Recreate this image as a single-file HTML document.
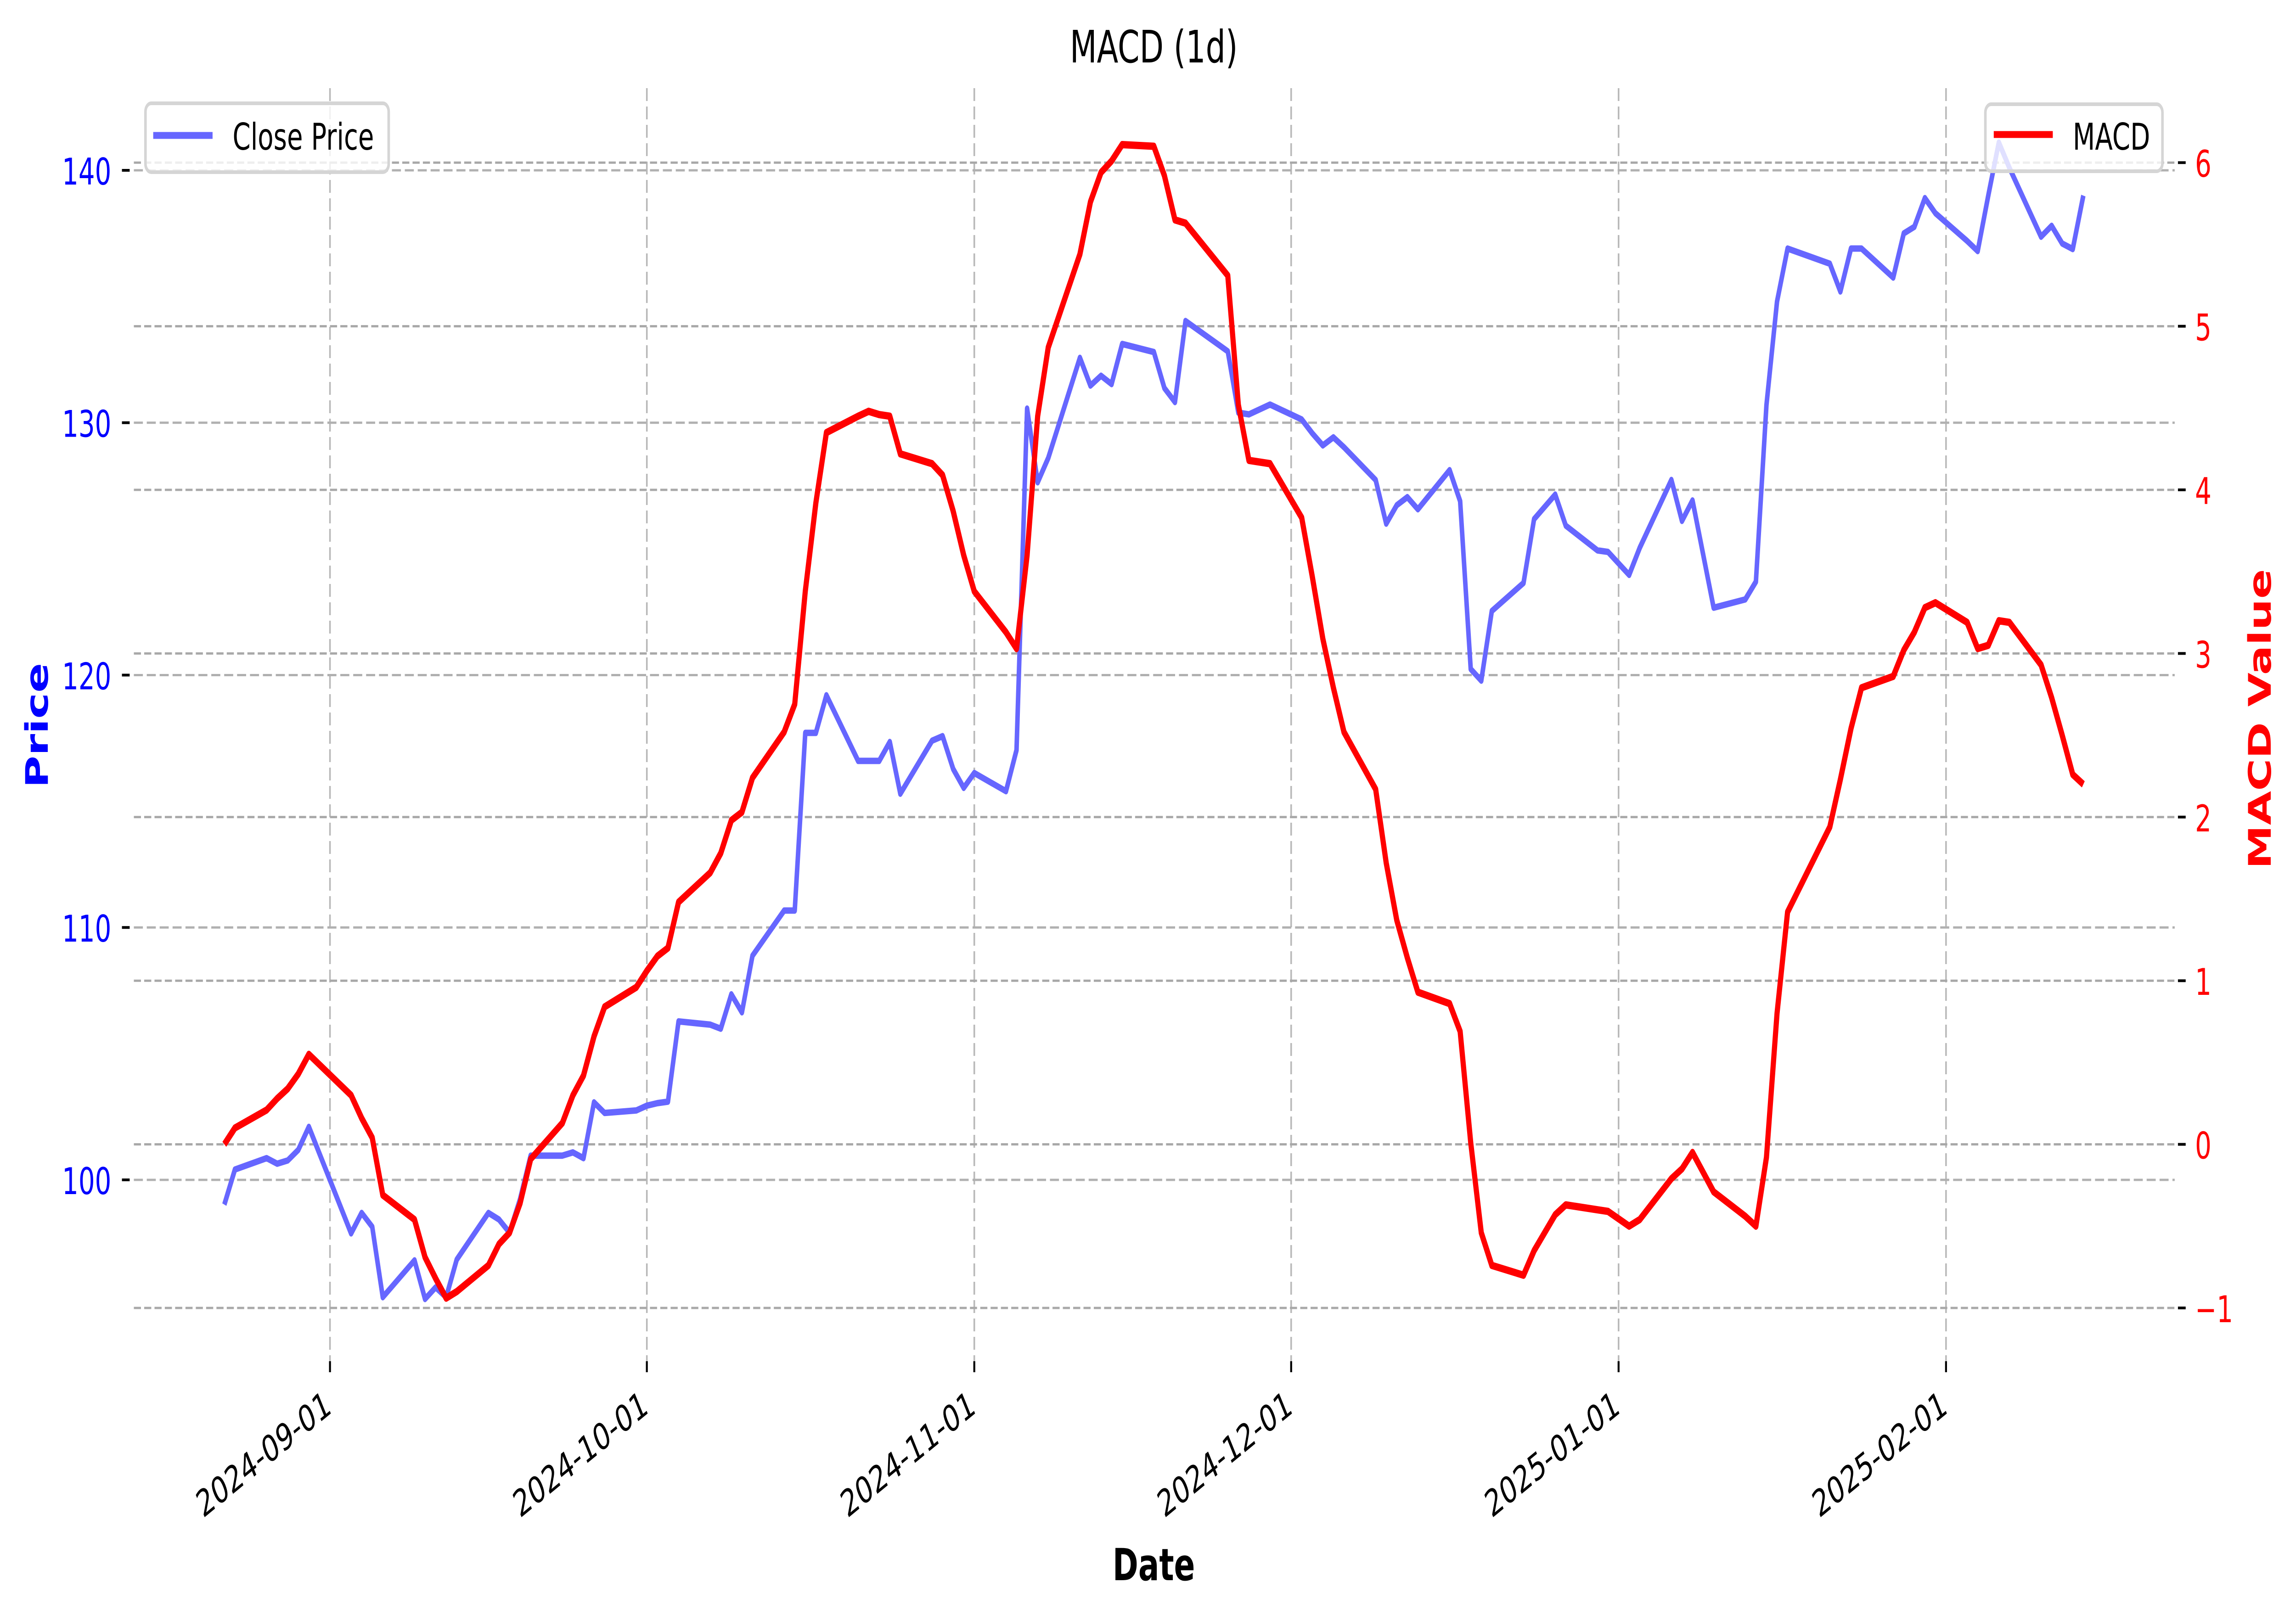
<!DOCTYPE html>
<html>
<head>
<meta charset="utf-8">
<style>
  html, body { margin: 0; padding: 0; background: #ffffff; overflow: hidden; width: 100%; height: 100%; }
  svg { display: block; width: 100vw; height: 100vh; }
  text { font-family: "DejaVu Sans", "Liberation Sans", sans-serif; }
</style>
</head>
<body>
<svg id="chart" xmlns="http://www.w3.org/2000/svg" viewBox="0 0 7118 3520" preserveAspectRatio="none">
  <rect x="0" y="0" width="7118" height="3520" fill="#ffffff"/>
  <g id="grid"></g>
  <g id="price-layer"></g>
  <g id="macd-layer"></g>
  <g id="axes"></g>
  <text x="3577" y="136" font-size="97" text-anchor="middle" fill="#000">MACD (1d)</text>
  <text x="3577" y="3442" font-size="96" font-weight="bold" text-anchor="middle" fill="#000">Date</text>
  <text x="0" y="0" font-size="96" font-weight="bold" text-anchor="middle" fill="#0000ff" transform="translate(148,1580) rotate(-90)">Price</text>
  <text x="0" y="0" font-size="96" font-weight="bold" text-anchor="middle" fill="#ff0000" transform="translate(7040,1566) rotate(-90)">MACD Value</text>
  <g>
    <rect x="451" y="225" width="754" height="150" rx="18" ry="18" fill="#ffffff" fill-opacity="0.8" stroke="#d5d5d5" stroke-width="8"/>
    <line x1="475" y1="295" x2="659" y2="295" stroke="#6666ff" stroke-width="15"/>
    <text x="721" y="326" font-size="80" fill="#000">Close Price</text>
  </g>
  <g>
    <rect x="6155" y="227" width="549" height="146" rx="18" ry="18" fill="#ffffff" fill-opacity="0.8" stroke="#d5d5d5" stroke-width="8"/>
    <line x1="6181" y1="293" x2="6364" y2="293" stroke="#ff0000" stroke-width="15"/>
    <text x="6426" y="326" font-size="80" fill="#000">MACD</text>
  </g>
</svg>
<script>
const dates = ["2024-08-22","2024-08-23","2024-08-26","2024-08-27","2024-08-28","2024-08-29","2024-08-30",
"2024-09-03","2024-09-04","2024-09-05","2024-09-06","2024-09-09","2024-09-10","2024-09-11","2024-09-12","2024-09-13",
"2024-09-16","2024-09-17","2024-09-18","2024-09-19","2024-09-20","2024-09-23","2024-09-24","2024-09-25","2024-09-26","2024-09-27","2024-09-30",
"2024-10-01","2024-10-02","2024-10-03","2024-10-04","2024-10-07","2024-10-08","2024-10-09","2024-10-10","2024-10-11",
"2024-10-14","2024-10-15","2024-10-16","2024-10-17","2024-10-18","2024-10-21","2024-10-22","2024-10-23","2024-10-24","2024-10-25",
"2024-10-28","2024-10-29","2024-10-30","2024-10-31","2024-11-01","2024-11-04","2024-11-05","2024-11-06","2024-11-07","2024-11-08",
"2024-11-11","2024-11-12","2024-11-13","2024-11-14","2024-11-15","2024-11-18","2024-11-19","2024-11-20","2024-11-21",
"2024-11-25","2024-11-26","2024-11-27","2024-11-29","2024-12-02","2024-12-03","2024-12-04","2024-12-05","2024-12-06",
"2024-12-09","2024-12-10","2024-12-11","2024-12-12","2024-12-13","2024-12-16","2024-12-17","2024-12-18","2024-12-19","2024-12-20",
"2024-12-23","2024-12-24","2024-12-26","2024-12-27","2024-12-30","2024-12-31","2025-01-02","2025-01-03",
"2025-01-06","2025-01-07","2025-01-08","2025-01-10","2025-01-13","2025-01-14","2025-01-15","2025-01-16","2025-01-17",
"2025-01-21","2025-01-22","2025-01-23","2025-01-24","2025-01-27","2025-01-28","2025-01-29","2025-01-30","2025-01-31",
"2025-02-03","2025-02-04","2025-02-05","2025-02-06","2025-02-07","2025-02-10","2025-02-11","2025-02-12","2025-02-13","2025-02-14"];

const closePrice = [99.02,100.41,100.86,100.64,100.77,101.19,102.10,
97.88,98.69,98.14,95.35,96.81,95.28,95.74,95.35,96.84,
98.69,98.43,97.91,99.24,100.96,100.96,101.09,100.86,103.07,102.65,102.75,
102.94,103.04,103.10,106.28,106.15,105.99,107.35,106.64,108.88,
110.67,110.67,117.71,117.71,119.20,116.60,116.60,116.60,117.35,115.30,
117.40,117.58,116.28,115.53,116.12,115.40,117.03,130.56,127.64,128.60,
132.57,131.47,131.86,131.53,133.12,132.80,131.37,130.82,134.03,
132.83,130.40,130.33,130.72,130.13,129.58,129.10,129.42,129.03,
127.73,126.00,126.73,127.05,126.57,128.12,126.89,120.24,119.78,122.54,
123.65,126.18,127.15,125.92,124.94,124.88,123.97,125.04,
127.73,126.11,126.92,122.67,123.00,123.70,130.70,134.80,136.90,
136.30,135.20,136.90,136.90,135.75,137.50,137.76,138.90,138.30,
137.20,136.80,139.00,141.10,140.10,137.37,137.80,137.10,136.88,139.00];

const macdValues = [0.00,0.10,0.21,0.28,0.34,0.43,0.55,
0.30,0.16,0.04,-0.31,-0.46,-0.69,-0.82,-0.94,-0.90,
-0.74,-0.61,-0.54,-0.36,-0.09,0.13,0.30,0.42,0.66,0.84,0.96,
1.06,1.15,1.20,1.48,1.66,1.78,1.98,2.03,2.24,
2.52,2.69,3.38,3.92,4.35,4.45,4.48,4.46,4.45,4.22,
4.16,4.09,3.87,3.60,3.38,3.13,3.03,3.60,4.45,4.87,
5.44,5.76,5.94,6.01,6.11,6.10,5.92,5.65,5.63,
5.31,4.52,4.18,4.16,3.83,3.47,3.09,2.79,2.52,
2.17,1.72,1.37,1.14,0.93,0.86,0.69,0.01,-0.54,-0.74,
-0.80,-0.65,-0.43,-0.37,-0.40,-0.41,-0.50,-0.46,
-0.21,-0.15,-0.05,-0.29,-0.44,-0.50,-0.08,0.80,1.42,
1.94,2.23,2.54,2.79,2.86,3.02,3.13,3.28,3.31,
3.19,3.03,3.05,3.20,3.19,2.93,2.73,2.50,2.26,2.20];

const priceTicks = [100, 110, 120, 130, 140];
const macdTicks = [-1, 0, 1, 2, 3, 4, 5, 6];
const dateTicks = ["2024-09-01","2024-10-01","2024-11-01","2024-12-01","2025-01-01","2025-02-01"];

const NS = "http://www.w3.org/2000/svg";
const PLOT = { left: 412, right: 6742, top: 192, bottom: 2965 };
const ORIGIN = Date.UTC(2024, 8, 1);
const DAYPX = 32.745;
function dayOf(s) { const p = s.split("-"); return (Date.UTC(+p[0], +p[1] - 1, +p[2]) - ORIGIN) / 86400000; }
function xScale(s) { return 1023 + dayOf(s) * DAYPX; }
function yPrice(v) { return 2570 - (v - 100) * 54.975; }
function yMacd(v) { return 2492.6 - v * 356.4; }

function mk(tag, attrs, parent) {
  const el = document.createElementNS(NS, tag);
  for (const k in attrs) el.setAttribute(k, attrs[k]);
  parent.appendChild(el);
  return el;
}

const grid = document.getElementById("grid");
const axes = document.getElementById("axes");
const priceLayer = document.getElementById("price-layer");
const macdLayer = document.getElementById("macd-layer");

dateTicks.forEach(function (d) {
  const x = xScale(d);
  const gl = mk("line", { x1: x, y1: PLOT.top, x2: x, y2: PLOT.bottom, stroke: "#b8b8b8", "stroke-width": 5, "stroke-dasharray": "28 12" }, grid);
  
  
  const tk = mk("line", { x1: x, y1: PLOT.bottom, x2: x, y2: PLOT.bottom + 24, stroke: "#000", "stroke-width": 6 }, axes);
  
  
  const t = mk("text", { x: 0, y: 0, "font-size": 80, "text-anchor": "end", fill: "#000", transform: "translate(" + (x - 20) + "," + (PLOT.bottom + 60) + ") rotate(-30) translate(0,58)" }, axes);
  t.textContent = d;
  
  
});

priceTicks.forEach(function (v) {
  const y = yPrice(v);
  const gl = mk("line", { x1: PLOT.left + 3, y1: y, x2: PLOT.right, y2: y, stroke: "#b0b0b0", "stroke-width": 5, "stroke-dasharray": "28 12" }, grid);
  
  
  const tk = mk("line", { x1: PLOT.left - 34, y1: y, x2: PLOT.left - 10, y2: y, stroke: "#000", "stroke-width": 6 }, axes);
  
  
  const t = mk("text", { x: 345, y: y + 31, "font-size": 80, "text-anchor": "end", fill: "#0000ff" }, axes);
  t.textContent = String(v);
  
  
});

macdTicks.forEach(function (v) {
  const y = yMacd(v);
  const gl = mk("line", { x1: PLOT.left + 3, y1: y, x2: PLOT.right, y2: y, stroke: "#a8a8a8", "stroke-width": 5, "stroke-dasharray": "22 10" }, grid);
  
  
  const tk = mk("line", { x1: PLOT.right + 10, y1: y, x2: PLOT.right + 34, y2: y, stroke: "#000", "stroke-width": 6 }, axes);
  
  
  const t = mk("text", { x: 6805, y: y + 31, "font-size": 80, "text-anchor": "start", fill: "#ff0000" }, axes);
  t.textContent = v < 0 ? "\u2212" + Math.abs(v) : String(v);
  
  
});

const pricePts = dates.map(function (d, i) { return xScale(d).toFixed(1) + "," + yPrice(closePrice[i]).toFixed(1); }).join(" ");
const pl = mk("polyline", { points: pricePts, fill: "none", stroke: "#6666ff", "stroke-width": 14, "stroke-linejoin": "round", "stroke-linecap": "butt" }, priceLayer);



const macdPts = dates.map(function (d, i) { return xScale(d).toFixed(1) + "," + yMacd(macdValues[i]).toFixed(1); }).join(" ");
const ml = mk("polyline", { points: macdPts, fill: "none", stroke: "#ff0000", "stroke-width": 16, "stroke-linejoin": "round", "stroke-linecap": "butt" }, macdLayer);


</script>
</body>
</html>
